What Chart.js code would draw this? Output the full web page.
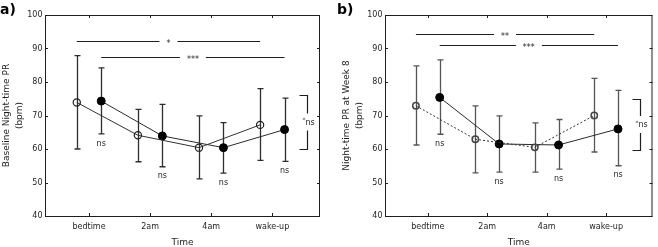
<!DOCTYPE html>
<html>
<head>
<meta charset="utf-8">
<script src="https://cdn.jsdelivr.net/npm/chart.js@4/dist/chart.umd.min.js"></script>
<style>
  html, body { margin: 0; padding: 0; background: #fff; }
  #wrap { position: relative; width: 658px; height: 247px; }
  canvas { position: absolute; top: 0; }
  #chartA { left: 0; }
  #chartB { left: 330px; }
</style>
</head>
<body>
<div id="wrap">
  <canvas id="chartA" width="330" height="247"></canvas>
  <canvas id="chartB" width="328" height="247"></canvas>
</div>
<script>
// Categories (x axis)
const categories = ['bedtime', '2am', '4am', 'wake-up'];

// a) baseline night-time PR, open circles
const baseOpenMean = [73.9, 64.1, 60.4, 67.2];
const baseOpenLow = [60.0, 56.2, 51.1, 56.6];
const baseOpenHigh = [87.9, 71.8, 69.9, 78.0];
// a) filled circles
const baseFilledMean = [74.3, 63.9, 60.4, 65.8];
const baseFilledLow = [64.5, 54.7, 52.8, 56.3];
const baseFilledHigh = [84.2, 73.3, 67.9, 75.2];

// b) night-time PR at week 8, open circles
const wk8OpenMean = [72.9, 62.9, 60.5, 70.0];
const wk8OpenLow = [61.2, 52.9, 53.1, 59.1];
const wk8OpenHigh = [84.8, 72.9, 67.8, 81.1];
// b) filled circles
const wk8FilledMean = [75.4, 61.5, 61.2, 66.0];
const wk8FilledLow = [64.4, 53.1, 54.0, 55.0];
const wk8FilledHigh = [86.6, 69.9, 68.8, 77.5];

// Annotations
const nsLabels = ['ns', 'ns', 'ns', 'ns'];
const sigLabelsA = ['*', '***'];
const sigLevelsA = [92.2, 87.5];
const sigLabelsB = ['**', '***'];
const sigLevelsB = [94.4, 91.0];
const sigGroups = ['open', 'filled'];
const bracketA = [76.0, 60.0];
const bracketB = [74.8, 59.8];
const bracketLabel = ['*', 'ns'];

const GROUP_SHIFT = 0.2; // dodge between the two groups
const INK = '#1e1e1e';

Chart.defaults.font.family = 'DejaVu Sans';
Chart.defaults.font.size = 8;
Chart.defaults.color = INK;

function groupX(i, group) {
  return i + 1 + (group === 'open' ? -GROUP_SHIFT : GROUP_SHIFT);
}

function toPoints(values, group) {
  return values.map((v, i) => ({ x: groupX(i, group), y: v }));
}

// Box, inward ticks, error bars, significance bars, bracket, letters
function panelPlugin(cfg) {
  return {
    id: 'panel' + cfg.letter,
    beforeDatasetsDraw(chart) {
      const { ctx, scales: { x, y } } = chart;
      ctx.save();
      ctx.strokeStyle = cfg.errColor;
      ctx.lineWidth = 1.3;
      chart.data.datasets.forEach((ds) => {
        ds.data.forEach((p, i) => {
          const px = Math.round(x.getPixelForValue(p.x)) + 0.5;
          const top = y.getPixelForValue(ds.errHigh[i]);
          const bot = y.getPixelForValue(ds.errLow[i]);
          ctx.beginPath();
          ctx.moveTo(px, top);
          ctx.lineTo(px, bot);
          ctx.moveTo(px - 3, top);
          ctx.lineTo(px + 3, top);
          ctx.moveTo(px - 3, bot);
          ctx.lineTo(px + 3, bot);
          ctx.stroke();
        });
      });
      ctx.restore();
    },
    afterDraw(chart) {
      const { ctx, chartArea, scales: { x, y } } = chart;
      const { left, right, top, bottom } = chartArea;
      ctx.save();

      // frame
      ctx.strokeStyle = INK;
      ctx.lineWidth = 1;
      ctx.strokeRect(left + 0.5, top + 0.5, right - left - 1, bottom - top);

      // inward tick marks on all four sides
      ctx.beginPath();
      y.ticks.forEach((t) => {
        const py = Math.round(y.getPixelForValue(t.value)) + 0.5;
        ctx.moveTo(left, py);
        ctx.lineTo(left + 3, py);
        ctx.moveTo(right, py);
        ctx.lineTo(right - 3, py);
      });
      categories.forEach((c, i) => {
        const px = Math.round(x.getPixelForValue(i + 1)) + 0.5;
        ctx.moveTo(px, bottom);
        ctx.lineTo(px, bottom - 3);
        ctx.moveTo(px, top);
        ctx.lineTo(px, top + 3);
      });
      ctx.stroke();

      // significance bars with a gap for the stars
      ctx.font = '8px "DejaVu Sans"';
      ctx.fillStyle = INK;
      ctx.textAlign = 'center';
      cfg.sigLabels.forEach((label, k) => {
        const x1 = x.getPixelForValue(groupX(0, sigGroups[k]));
        const x2 = x.getPixelForValue(groupX(3, sigGroups[k]));
        const py = Math.round(y.getPixelForValue(cfg.sigLevels[k])) + 0.5;
        const mid = (x1 + x2) / 2;
        const gap = ctx.measureText(label).width / 2 + 7;
        ctx.beginPath();
        ctx.moveTo(x1, py);
        ctx.lineTo(mid - gap, py);
        ctx.moveTo(mid + gap, py);
        ctx.lineTo(x2, py);
        ctx.stroke();
        ctx.textBaseline = 'alphabetic';
        ctx.fillText(label, mid, py + 4.5);
      });

      // "ns" under each filled-circle error bar
      ctx.textBaseline = 'middle';
      nsLabels.forEach((label, i) => {
        const px = x.getPixelForValue(groupX(i, 'filled'));
        const py = y.getPixelForValue(cfg.filledLow[i]) + 9.5;
        ctx.fillText(label, px, py);
      });

      // bracket on the right
      const bx = Math.round(x.getPixelForValue(groupX(3, 'filled')) + 22) + 0.5;
      const yt = Math.round(y.getPixelForValue(cfg.bracket[0])) + 0.5;
      const yb = Math.round(y.getPixelForValue(cfg.bracket[1])) + 0.5;
      const ym = (yt + yb) / 2;
      ctx.lineWidth = 1.2;
      ctx.beginPath();
      ctx.moveTo(bx - 8, yt);
      ctx.lineTo(bx, yt);
      ctx.lineTo(bx, ym - 9);
      ctx.moveTo(bx, ym + 8);
      ctx.lineTo(bx, yb);
      ctx.lineTo(bx - 8, yb);
      ctx.stroke();

      ctx.font = '6px "DejaVu Sans"';
      const wStar = ctx.measureText(bracketLabel[0]).width;
      ctx.font = '8px "DejaVu Sans"';
      const wNs = ctx.measureText(bracketLabel[1]).width;
      const start = bx - (wStar + wNs) / 2 + 1;
      ctx.textAlign = 'left';
      ctx.fillText(bracketLabel[1], start + wStar, ym);
      ctx.font = '6px "DejaVu Sans"';
      ctx.fillText(bracketLabel[0], start, ym - 2);

      // panel letter
      ctx.font = 'bold 14px "DejaVu Sans"';
      ctx.textBaseline = 'alphabetic';
      ctx.fillStyle = '#000';
      ctx.fillText(cfg.letter + ')', cfg.letterX, 14);

      ctx.restore();
    },
  };
}

function buildPanel(canvasId, options) {
  const {
    letter,
    letterX,
    yTitle,
    yTitlePad,
    yAxisWidth,
    rightPad,
    open,
    filled,
    openDash,
    openStyle,
    errColor,
    sigLabels,
    sigLevels,
    bracket,
  } = options;

  const ctx = document.getElementById(canvasId).getContext('2d');

  return new Chart(ctx, {
    type: 'line',
    data: {
      datasets: [
        {
          label: 'open',
          data: toPoints(open.mean, 'open'),
          errLow: open.low,
          errHigh: open.high,
          borderColor: '#333',
          borderWidth: 1,
          borderDash: openDash,
          pointStyle: 'circle',
          pointRadius: openStyle.radius,
          pointBorderWidth: openStyle.width,
          pointBorderColor: openStyle.color,
          pointBackgroundColor: 'rgba(0,0,0,0)',
          tension: 0,
        },
        {
          label: 'filled',
          data: toPoints(filled.mean, 'filled'),
          errLow: filled.low,
          errHigh: filled.high,
          borderColor: '#2a2a2a',
          borderWidth: 1,
          pointStyle: 'circle',
          pointRadius: 4,
          pointBorderWidth: 1,
          pointBorderColor: '#000',
          pointBackgroundColor: '#000',
          tension: 0,
        },
      ],
    },
    options: {
      responsive: false,
      animation: false,
      events: [],
      layout: { padding: { left: 0, right: rightPad, top: 15, bottom: 0 } },
      plugins: {
        legend: { display: false },
        tooltip: { enabled: false },
      },
      scales: {
        x: {
          type: 'linear',
          min: 0.28,
          max: 4.78,
          grid: { display: false, drawTicks: false, tickLength: 0 },
          border: { display: false },
          afterBuildTicks: (scale) => {
            scale.ticks = categories.map((c, i) => ({ value: i + 1 }));
          },
          afterFit: (scale) => {
            scale.height = 31;
          },
          ticks: {
            padding: 6,
            maxRotation: 0,
            autoSkip: false,
            callback: (value) => categories[value - 1] || '',
          },
          title: {
            display: true,
            text: 'Time',
            font: { size: 9, lineHeight: 1 },
            padding: 0,
          },
        },
        y: {
          min: 40,
          max: 100,
          grid: { display: false, drawTicks: false, tickLength: 0 },
          border: { display: false },
          afterFit: (scale) => {
            scale.width = yAxisWidth;
          },
          ticks: { stepSize: 10, padding: 2.5 },
          title: {
            display: true,
            text: yTitle,
            font: { size: 9, lineHeight: 1.45 },
            padding: { top: yTitlePad, bottom: 0 },
          },
        },
      },
    },
    plugins: [
      panelPlugin({ letter, letterX, errColor, sigLabels, sigLevels, bracket, filledLow: filled.low }),
    ],
  });
}

buildPanel('chartA', {
  letter: 'a',
  letterX: 0,
  yTitle: ['Baseline Night-time PR', '(bpm)'],
  yTitlePad: 0,
  yAxisWidth: 45,
  rightPad: 10,
  open: { mean: baseOpenMean, low: baseOpenLow, high: baseOpenHigh },
  filled: { mean: baseFilledMean, low: baseFilledLow, high: baseFilledHigh },
  openDash: [],
  openStyle: { radius: 3.6, width: 1.2, color: '#222' },
  errColor: '#2e2e2e',
  sigLabels: sigLabelsA,
  sigLevels: sigLevelsA,
  bracket: bracketA,
});

buildPanel('chartB', {
  letter: 'b',
  letterX: 7,
  yTitle: ['Night-time PR at Week 8', '(bpm)'],
  yTitlePad: 10.5,
  yAxisWidth: 55,
  rightPad: 2,
  open: { mean: wk8OpenMean, low: wk8OpenLow, high: wk8OpenHigh },
  filled: { mean: wk8FilledMean, low: wk8FilledLow, high: wk8FilledHigh },
  openDash: [2, 2],
  openStyle: { radius: 3.2, width: 1.5, color: '#444' },
  errColor: '#555',
  sigLabels: sigLabelsB,
  sigLevels: sigLevelsB,
  bracket: bracketB,
});
</script>
</body>
</html>
